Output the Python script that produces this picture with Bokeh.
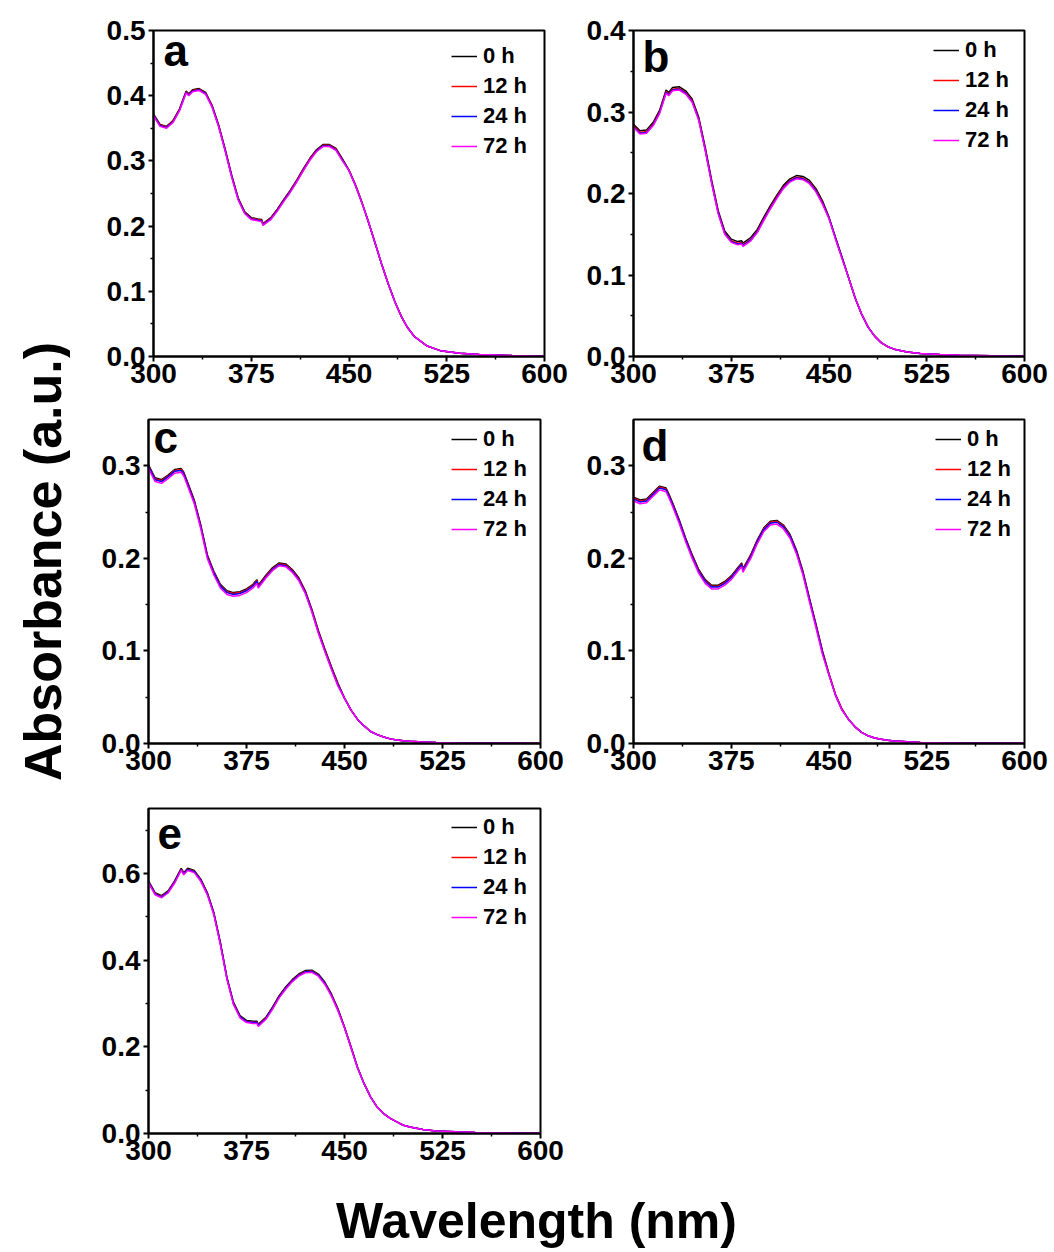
import math
from bokeh.plotting import figure
from bokeh.models import (Range1d, FixedTicker, PrintfTickFormatter, Legend,
                          LegendItem, Label, Spacer)
from bokeh.layouts import row, column
from bokeh.embed import file_html
from bokeh.resources import INLINE
from bokeh.core.properties import value

FONT = "Liberation Sans"

# ---------------- data ----------------
WAVELENGTH = [300, 305, 310, 315, 320, 325, 327, 330, 335, 340, 345, 350, 355, 360, 365,
              370, 375, 380, 383, 384, 390, 395, 400, 405, 410, 415, 420, 425, 430, 435,
              440, 445, 450, 455, 460, 465, 470, 475, 480, 485, 490, 495, 500, 510, 520,
              535, 550, 575, 600]

SERIES_LABELS = ["0 h", "12 h", "24 h", "72 h"]
COLORS = ["#000000", "#FF0000", "#0000FF", "#FF00FF"]

X_TICKS = [300, 375, 450, 525, 600]
X_MINOR = [337.5, 412.5, 487.5, 562.5]

# panel a
a_tail = [0.206, 0.174, 0.142, 0.112, 0.085, 0.062, 0.044, 0.031, 0.016, 0.009, 0.005, 0.003, 0.0015, 0.0005]
a_0h = [0.372, 0.356, 0.353, 0.362, 0.380, 0.407, 0.403, 0.409, 0.411, 0.405, 0.385, 0.355, 0.318, 0.278, 0.243, 0.222, 0.213, 0.211, 0.210, 0.204, 0.213, 0.226, 0.241, 0.255, 0.271, 0.288, 0.304, 0.317, 0.325, 0.325, 0.319, 0.303, 0.286, 0.263, 0.236] + a_tail
a_12h = [0.371, 0.355, 0.352, 0.361, 0.379, 0.406, 0.402, 0.408, 0.410, 0.404, 0.384, 0.354, 0.317, 0.277, 0.242, 0.221, 0.212, 0.210, 0.209, 0.203, 0.212, 0.225, 0.240, 0.254, 0.270, 0.287, 0.303, 0.316, 0.324, 0.324, 0.318, 0.302, 0.286, 0.263, 0.236] + a_tail
a_24h = [0.370, 0.354, 0.351, 0.360, 0.378, 0.405, 0.401, 0.407, 0.409, 0.403, 0.383, 0.353, 0.316, 0.276, 0.241, 0.220, 0.211, 0.209, 0.208, 0.202, 0.211, 0.224, 0.239, 0.253, 0.269, 0.286, 0.302, 0.315, 0.323, 0.323, 0.317, 0.301, 0.285, 0.262, 0.235] + a_tail
a_72h = [0.369, 0.353, 0.350, 0.359, 0.377, 0.404, 0.400, 0.406, 0.408, 0.402, 0.382, 0.352, 0.315, 0.275, 0.240, 0.219, 0.210, 0.208, 0.207, 0.201, 0.210, 0.223, 0.238, 0.252, 0.268, 0.285, 0.301, 0.314, 0.322, 0.322, 0.316, 0.300, 0.285, 0.262, 0.235] + a_tail

# panel b
b_tail = [0.097, 0.072, 0.052, 0.036, 0.025, 0.017, 0.012, 0.009, 0.0055, 0.0037, 0.0025, 0.0015, 0.0008, 0.0003]
b_0h = [0.285, 0.277, 0.278, 0.287, 0.302, 0.327, 0.324, 0.330, 0.331, 0.326, 0.316, 0.294, 0.257, 0.216, 0.179, 0.154, 0.144, 0.141, 0.142, 0.139, 0.146, 0.156, 0.171, 0.185, 0.198, 0.210, 0.218, 0.222, 0.221, 0.216, 0.206, 0.191, 0.171, 0.146, 0.122] + b_tail
b_12h = [0.283, 0.275, 0.276, 0.285, 0.300, 0.325, 0.322, 0.328, 0.329, 0.324, 0.314, 0.292, 0.255, 0.214, 0.177, 0.152, 0.142, 0.139, 0.140, 0.137, 0.144, 0.154, 0.169, 0.183, 0.196, 0.208, 0.216, 0.220, 0.219, 0.214, 0.204, 0.189, 0.170, 0.145, 0.121] + b_tail
b_24h = [0.282, 0.274, 0.275, 0.284, 0.299, 0.324, 0.321, 0.327, 0.328, 0.323, 0.313, 0.291, 0.254, 0.213, 0.176, 0.151, 0.141, 0.138, 0.139, 0.136, 0.143, 0.153, 0.168, 0.182, 0.195, 0.207, 0.215, 0.219, 0.218, 0.213, 0.203, 0.188, 0.170, 0.145, 0.121] + b_tail
b_72h = [0.281, 0.273, 0.274, 0.283, 0.298, 0.323, 0.320, 0.326, 0.327, 0.322, 0.312, 0.290, 0.253, 0.212, 0.175, 0.150, 0.140, 0.137, 0.138, 0.135, 0.142, 0.152, 0.167, 0.181, 0.194, 0.206, 0.214, 0.218, 0.217, 0.212, 0.202, 0.187, 0.169, 0.144, 0.120] + b_tail

# panel c
c_tail = [0.019, 0.013, 0.0096, 0.0071, 0.005, 0.0038, 0.003, 0.0024, 0.0015, 0.001, 0.0006, 0.0004, 0.0002, 0.0001]
c_0h = [0.301, 0.287, 0.285, 0.290, 0.296, 0.297, 0.293, 0.282, 0.263, 0.236, 0.204, 0.186, 0.172, 0.165, 0.163, 0.164, 0.167, 0.172, 0.177, 0.171, 0.182, 0.190, 0.195, 0.194, 0.188, 0.179, 0.165, 0.145, 0.122, 0.102, 0.083, 0.065, 0.049, 0.036, 0.026] + c_tail
c_12h = [0.300, 0.286, 0.284, 0.289, 0.295, 0.296, 0.292, 0.281, 0.262, 0.235, 0.203, 0.185, 0.171, 0.164, 0.162, 0.163, 0.166, 0.171, 0.176, 0.170, 0.181, 0.189, 0.194, 0.193, 0.187, 0.178, 0.164, 0.144, 0.121, 0.101, 0.082, 0.064, 0.049, 0.036, 0.026] + c_tail
c_24h = [0.299, 0.285, 0.283, 0.288, 0.294, 0.295, 0.291, 0.280, 0.261, 0.234, 0.202, 0.184, 0.170, 0.163, 0.161, 0.162, 0.165, 0.170, 0.175, 0.169, 0.180, 0.188, 0.193, 0.192, 0.186, 0.177, 0.163, 0.143, 0.120, 0.100, 0.081, 0.063, 0.049, 0.036, 0.026] + c_tail
c_72h = [0.297, 0.283, 0.281, 0.286, 0.292, 0.293, 0.289, 0.278, 0.259, 0.232, 0.200, 0.182, 0.168, 0.161, 0.159, 0.160, 0.163, 0.168, 0.173, 0.168, 0.179, 0.187, 0.192, 0.191, 0.185, 0.176, 0.162, 0.142, 0.119, 0.099, 0.080, 0.062, 0.049, 0.036, 0.026] + c_tail

# panel d
d_tail = [0.026, 0.018, 0.012, 0.0083, 0.006, 0.0045, 0.0035, 0.0028, 0.0018, 0.0012, 0.0008, 0.0005, 0.0003, 0.0001]
d_0h = [0.266, 0.263, 0.264, 0.271, 0.278, 0.276, 0.270, 0.260, 0.242, 0.222, 0.204, 0.188, 0.177, 0.171, 0.171, 0.175, 0.181, 0.190, 0.195, 0.189, 0.204, 0.220, 0.233, 0.240, 0.241, 0.236, 0.226, 0.209, 0.186, 0.157, 0.129, 0.100, 0.075, 0.053, 0.037] + d_tail
d_12h = [0.265, 0.262, 0.263, 0.270, 0.277, 0.275, 0.269, 0.259, 0.241, 0.221, 0.203, 0.187, 0.176, 0.170, 0.170, 0.174, 0.180, 0.189, 0.194, 0.188, 0.203, 0.219, 0.232, 0.239, 0.240, 0.235, 0.225, 0.208, 0.185, 0.156, 0.128, 0.099, 0.075, 0.053, 0.037] + d_tail
d_24h = [0.264, 0.261, 0.262, 0.269, 0.276, 0.274, 0.268, 0.258, 0.240, 0.220, 0.202, 0.186, 0.175, 0.169, 0.169, 0.173, 0.179, 0.188, 0.193, 0.187, 0.202, 0.218, 0.231, 0.238, 0.239, 0.234, 0.224, 0.207, 0.184, 0.155, 0.127, 0.098, 0.074, 0.052, 0.036] + d_tail
d_72h = [0.262, 0.259, 0.260, 0.267, 0.274, 0.272, 0.266, 0.256, 0.238, 0.218, 0.200, 0.184, 0.173, 0.167, 0.167, 0.171, 0.177, 0.186, 0.191, 0.185, 0.200, 0.216, 0.229, 0.236, 0.237, 0.232, 0.222, 0.205, 0.182, 0.153, 0.125, 0.096, 0.074, 0.052, 0.036] + d_tail

# panel e
e_tail = [0.115, 0.084, 0.061, 0.046, 0.035, 0.027, 0.019, 0.015, 0.009, 0.006, 0.004, 0.0025, 0.0012, 0.0005]
e_0h = [0.583, 0.556, 0.549, 0.560, 0.583, 0.612, 0.602, 0.612, 0.607, 0.587, 0.556, 0.510, 0.441, 0.361, 0.303, 0.272, 0.261, 0.259, 0.259, 0.252, 0.269, 0.292, 0.318, 0.338, 0.355, 0.368, 0.376, 0.377, 0.368, 0.349, 0.322, 0.288, 0.246, 0.200, 0.153] + e_tail
e_12h = [0.581, 0.554, 0.547, 0.558, 0.581, 0.610, 0.600, 0.610, 0.605, 0.585, 0.554, 0.508, 0.439, 0.359, 0.301, 0.270, 0.259, 0.257, 0.257, 0.250, 0.267, 0.290, 0.316, 0.336, 0.353, 0.366, 0.374, 0.375, 0.366, 0.347, 0.320, 0.286, 0.245, 0.199, 0.152] + e_tail
e_24h = [0.580, 0.553, 0.546, 0.557, 0.580, 0.609, 0.599, 0.609, 0.604, 0.584, 0.553, 0.507, 0.438, 0.358, 0.300, 0.269, 0.258, 0.256, 0.256, 0.249, 0.266, 0.289, 0.315, 0.335, 0.352, 0.365, 0.373, 0.374, 0.365, 0.346, 0.319, 0.285, 0.244, 0.198, 0.151] + e_tail
e_72h = [0.578, 0.551, 0.544, 0.555, 0.578, 0.607, 0.597, 0.607, 0.602, 0.582, 0.551, 0.505, 0.436, 0.356, 0.298, 0.267, 0.256, 0.254, 0.254, 0.247, 0.264, 0.287, 0.313, 0.333, 0.350, 0.363, 0.371, 0.372, 0.363, 0.344, 0.317, 0.283, 0.244, 0.198, 0.151] + e_tail

for s in (a_0h, a_12h, a_24h, a_72h, b_0h, b_12h, b_24h, b_72h, c_0h, c_12h, c_24h, c_72h,
          d_0h, d_12h, d_24h, d_72h, e_0h, e_12h, e_24h, e_72h):
    assert len(s) == len(WAVELENGTH)


# ---------------- panels ----------------
def make_panel(letter, series, ymax, yticks, yminor, bl, br, bt, bb, fw, fh, leg_xy, let_xy):
    width = bl + fw + br
    height = bt + fh + bb
    p = figure(width=width, height=height, x_range=Range1d(300, 600), y_range=Range1d(0, ymax),
               output_backend="svg", toolbar_location=None,
               min_border_left=bl, min_border_right=br, min_border_top=bt, min_border_bottom=bb)
    p.xgrid.visible = False
    p.ygrid.visible = False
    p.outline_line_color = "black"
    p.outline_line_width = 2
    p.background_fill_color = "white"
    p.border_fill_color = "white"

    p.xaxis.ticker = FixedTicker(ticks=X_TICKS, minor_ticks=X_MINOR)
    p.yaxis.ticker = FixedTicker(ticks=yticks, minor_ticks=yminor)
    p.xaxis.formatter = PrintfTickFormatter(format="%d")
    p.yaxis.formatter = PrintfTickFormatter(format="%.1f")
    for ax in (p.xaxis, p.yaxis):
        ax.axis_line_width = 2
        ax.major_tick_line_width = 2
        ax.minor_tick_line_width = 1.5
        ax.major_tick_in = 0
        ax.major_tick_out = 5
        ax.minor_tick_in = 0
        ax.minor_tick_out = 3
        ax.major_label_text_font = FONT
        ax.major_label_text_font_style = "bold"
        ax.major_label_text_font_size = "28px"
        ax.major_label_text_color = "black"
    p.xaxis.major_label_standoff = 2
    p.yaxis.major_label_standoff = 3

    items = []
    for lab, col, ys in zip(SERIES_LABELS, COLORS, series):
        r = p.line(WAVELENGTH, ys, line_color=col, line_width=1.5)
        items.append(LegendItem(label=lab, renderers=[r]))
    leg = Legend(items=items, location=leg_xy)
    leg.label_text_font = FONT
    leg.label_text_font_style = "bold"
    leg.label_text_font_size = "22px"
    leg.label_text_color = "black"
    leg.glyph_width = 26
    leg.glyph_height = 26
    leg.label_height = 26
    leg.label_standoff = 6
    leg.spacing = 4
    leg.padding = 0
    leg.margin = 0
    leg.border_line_alpha = 0
    leg.background_fill_alpha = 0
    p.add_layout(leg)

    dx, dy = let_xy
    p.add_layout(Label(x=300 + dx * 300.0 / fw, y=ymax - dy * ymax / fh, text=letter,
                       text_font=FONT, text_font_style="bold", text_font_size="44px",
                       text_color="black", text_align="left", text_baseline="middle"))
    return p


fa = make_panel("a", [a_0h, a_12h, a_24h, a_72h], 0.5,
                [0, 0.1, 0.2, 0.3, 0.4, 0.5], [0.05, 0.15, 0.25, 0.35, 0.45],
                83, 31, 30, 49, 391, 326, (298, 197), (10, 20))
fb = make_panel("b", [b_0h, b_12h, b_24h, b_72h], 0.4,
                [0, 0.1, 0.2, 0.3, 0.4], [0.05, 0.15, 0.25, 0.35],
                58, 30, 30, 49, 391, 326, (300, 203), (9, 26))
fc = make_panel("c", [c_0h, c_12h, c_24h, c_72h], 0.35,
                [0, 0.1, 0.2, 0.3], [0.05, 0.15, 0.25],
                78, 35, 14, 49, 392, 327, (303, 201), (5, 18))
fd = make_panel("d", [d_0h, d_12h, d_24h, d_72h], 0.35,
                [0, 0.1, 0.2, 0.3], [0.05, 0.15, 0.25],
                58, 30, 12, 52, 391, 326, (302, 201), (8, 26))
fe = make_panel("e", [e_0h, e_12h, e_24h, e_72h], 0.75,
                [0, 0.2, 0.4, 0.6], [0.1, 0.3, 0.5, 0.7],
                78, 35, 13, 47, 392, 325, (303, 203), (9, 25))


def strip(w, h):
    s = figure(width=w, height=h, x_range=Range1d(0, w), y_range=Range1d(0, h),
               output_backend="svg", toolbar_location=None,
               x_axis_location=None, y_axis_location=None, min_border=0)
    s.xgrid.visible = False
    s.ygrid.visible = False
    s.outline_line_color = None
    return s


left = strip(70, 1252)
left.text(x=[42], y=[1252 - 561], text=["Absorbance (a.u.)"], angle=math.pi / 2,
          text_align="center", text_baseline="middle", text_font=value(FONT),
          text_font_style="bold", text_font_size="52px", text_color="black")

bottom = strip(984, 72)
bottom.text(x=[466], y=[32], text=["Wavelength (nm)"], text_align="center",
            text_baseline="middle", text_font=value(FONT), text_font_style="bold",
            text_font_size="50px", text_color="black")

layout = row(left, column(row(fa, fb), row(fc, fd), row(fe, Spacer(width=479, height=385)), bottom))

open("out.html", "w").write(file_html(layout, INLINE))
